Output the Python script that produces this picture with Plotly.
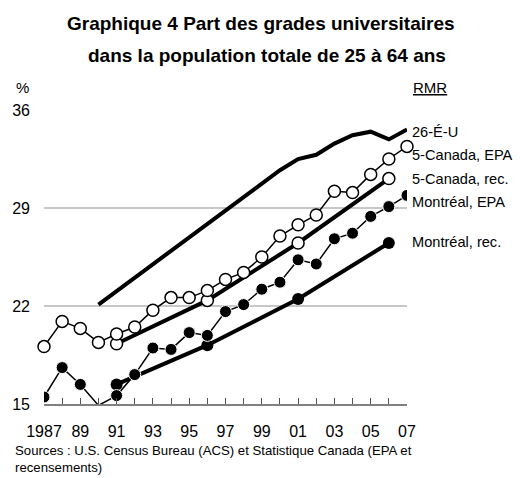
import plotly.graph_objects as go

years = list(range(1987, 2008))
census_years = [1991, 1996, 2001, 2006]
us_years = [1990, 2000, 2001, 2002, 2003, 2004, 2005, 2006, 2007]

us_26 = [22.1, 31.7, 32.5, 32.8, 33.6, 34.2, 34.45, 33.9, 34.6]
canada_epa = [19.1, 20.9, 20.4, 19.4, 20.0, 20.5, 21.7, 22.6, 22.6, 23.1, 23.9,
              24.4, 25.5, 27.0, 27.8, 28.5, 30.2, 30.1, 31.4, 32.5, 33.4]
canada_rec = [19.3, 22.4, 26.5, 31.1]
montreal_epa = [15.5, 17.6, 16.4, 14.9, 15.6, 17.1, 19.0, 18.9, 20.1, 19.9, 21.6,
                22.1, 23.2, 23.7, 25.3, 25.0, 26.8, 27.2, 28.4, 29.1, 29.9]
montreal_rec = [16.4, 19.2, 22.5, 26.5]

series_labels = ["26-É-U", "5-Canada, EPA", "5-Canada, rec.", "Montréal, EPA", "Montréal, rec."]
label_y = [34.4, 32.8, 31.1, 29.4, 26.6]

x_tickvals = years
x_ticktext = ["1987" if y == 1987 else (f"{y % 100:02d}" if y % 2 == 1 else "") for y in years]
y_tickvals = [15, 22, 29, 36]

title_lines = ["Graphique 4 Part des grades universitaires",
               "dans la population totale de 25 à 64 ans"]

FONT = "Liberation Sans, Arial, sans-serif"

fig = go.Figure()

fig.add_trace(go.Scatter(x=us_years, y=us_26, mode="lines",
                         line=dict(color="black", width=4), cliponaxis=False))
fig.add_trace(go.Scatter(x=census_years, y=canada_rec, mode="lines+markers",
                         line=dict(color="black", width=4),
                         marker=dict(symbol="circle", size=12, color="white", opacity=1,
                                     line=dict(color="black", width=1.5)),
                         cliponaxis=False))
fig.add_trace(go.Scatter(x=years, y=canada_epa, mode="lines+markers",
                         line=dict(color="black", width=1.5),
                         marker=dict(symbol="circle", size=12, color="white", opacity=1,
                                     line=dict(color="black", width=1.5)),
                         cliponaxis=False))
fig.add_trace(go.Scatter(x=census_years, y=montreal_rec, mode="lines+markers",
                         line=dict(color="black", width=4),
                         marker=dict(symbol="circle", size=12, color="black", opacity=1),
                         cliponaxis=False))
m_sizes = [0 if v < 15 else 12 for v in montreal_epa]
fig.add_trace(go.Scatter(x=years, y=montreal_epa, mode="lines+markers",
                         line=dict(color="black", width=1.5),
                         marker=dict(symbol="circle", size=m_sizes, color="black", opacity=1),
                         cliponaxis=True))

ann = []
for t, yv in zip(series_labels, label_y):
    ann.append(dict(x=2007, xref="x", y=yv, yref="y", text=t, showarrow=False,
                    xanchor="left", yanchor="middle", xshift=3,
                    font=dict(family=FONT, size=14.6, color="black")))

for t, xp, yp in zip(title_lines, [0.598, 0.615], [1.293, 1.186]):
    ann.append(dict(x=xp, xref="paper", y=yp, yref="paper", text=f"<b>{t}</b>",
                    showarrow=False, xanchor="center", yanchor="middle",
                    font=dict(family=FONT, size=19, color="black")))
ann.append(dict(x=-0.059, xref="paper", y=1.078, yref="paper", text="%",
                showarrow=False, xanchor="center", yanchor="middle",
                font=dict(family=FONT, size=15, color="black")))
ann.append(dict(x=1.064, xref="paper", y=1.078, yref="paper", text="<u>RMR</u>",
                showarrow=False, xanchor="center", yanchor="middle",
                font=dict(family=FONT, size=15, color="black")))
ann.append(dict(x=-0.085, xref="paper", y=-0.125, yref="paper",
                text="Sources : U.S. Census Bureau (ACS) et Statistique Canada (EPA et<br>recensements)",
                showarrow=False, xanchor="left", yanchor="top", align="left",
                font=dict(family=FONT, size=13.2, color="black")))

fig.update_layout(
    width=521, height=478,
    margin=dict(l=43.5, r=114, t=110, b=74, pad=0),
    plot_bgcolor="white", paper_bgcolor="white",
    showlegend=False,
    font=dict(family=FONT, size=15, color="black"),
    annotations=ann,
    xaxis=dict(range=[1987, 2007], tickvals=x_tickvals, ticktext=x_ticktext,
               ticks="inside", ticklen=6, tickcolor="#555555", tickwidth=1,
               showgrid=False, showline=True, linecolor="#808080", linewidth=1.5,
               zeroline=False, ticklabelstandoff=12, automargin=False,
               tickfont=dict(family=FONT, size=16, color="black")),
    yaxis=dict(range=[15, 36], tickvals=y_tickvals, showgrid=True,
               gridcolor="#c8c8c8", gridwidth=2, zeroline=False, showline=False,
               ticks="", ticklabelstandoff=13, automargin=False,
               tickfont=dict(family=FONT, size=16, color="black")),
)

fig.write_html("out.html", config={"displayModeBar": False},
               post_script="document.body.style.margin='0';document.body.style.overflow='hidden';")
